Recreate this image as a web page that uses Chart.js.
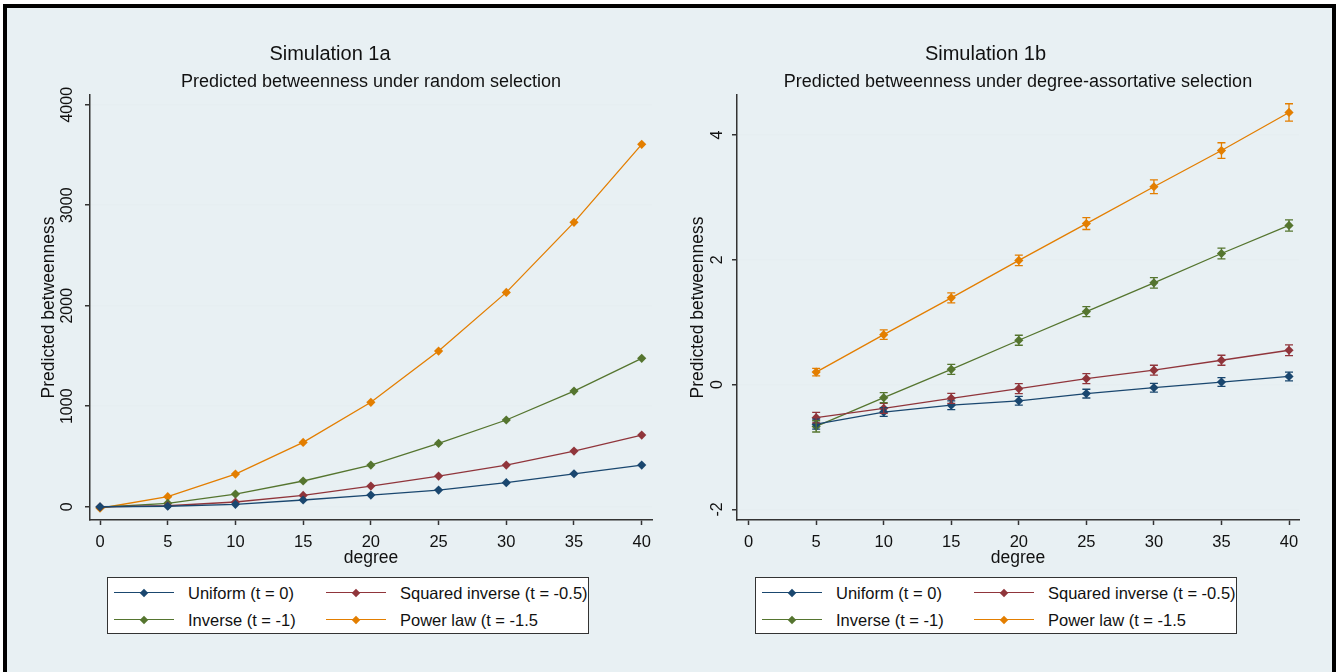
<!DOCTYPE html>
<html>
<head>
<meta charset="utf-8">
<script src="https://cdn.jsdelivr.net/npm/chart.js@4.4.0/dist/chart.umd.min.js"></script>
<style>
html, body { margin: 0; padding: 0; }
body { width: 1341px; height: 672px; overflow: hidden; background: #fff; position: relative;
       font-family: "Liberation Sans", Arial, sans-serif; }
#frame { position: absolute; left: 3px; top: 4px; width: 1325px; height: 700px;
         border: 4px solid #000; background: #e8f0f3; }
.chartbox { position: absolute; top: 0; height: 570px; }
.legend { position: absolute; top: 577px; width: 480px; height: 55px; background: #fff;
          border: 1px solid #333; font-size: 16.5px; color: #111; }
.item { position: absolute; height: 20px; }
.item .ln { position: absolute; left: 0; top: 9px; width: 60px; height: 1.3px; }
.item .dm { position: absolute; left: 26.5px; top: 6.5px; width: 6px; height: 6px; transform: rotate(45deg); }
.item .tx { position: absolute; left: 74px; top: 0; white-space: nowrap; line-height: 20px; }
</style>
</head>
<body>
<div id="frame"></div>
<div class="chartbox" style="left:8px;width:672px"><canvas id="graficoA" width="672" height="570"></canvas></div>
<div class="chartbox" style="left:672px;width:642px"><canvas id="graficoB" width="642" height="570"></canvas></div>
<div class="legend" id="leyendaA" style="left:107px"></div>
<div class="legend" id="leyendaB" style="left:755px"></div>
<script>
// datos
var nombres = ['Uniform (t = 0)', 'Squared inverse (t = -0.5)', 'Inverse (t = -1)', 'Power law (t = -1.5'];
var colores = ['#1a476f', '#90353b', '#55752f', '#e37e00'];

// Simulation 1a
var grados = [0, 5, 10, 15, 20, 25, 30, 35, 40];
var randUniform = [0, 5, 24, 67, 116, 166, 239, 328, 415];
var randSquared = [-2, 10, 47, 113, 206, 305, 415, 554, 713];
var randInverse = [-5, 34, 126, 256, 415, 631, 863, 1151, 1477];
var randPower = [-15, 100, 325, 640, 1039, 1549, 2133, 2830, 3606];
var ticksYA = [0, 1000, 2000, 3000, 4000];

// Simulation 1b
var gradosB = [5, 10, 15, 20, 25, 30, 35, 40];
var assortUniform = [-0.635, -0.44, -0.33, -0.26, -0.145, -0.05, 0.04, 0.13];
var assortSquared = [-0.53, -0.38, -0.22, -0.065, 0.095, 0.23, 0.39, 0.55];
var assortInverse = [-0.67, -0.21, 0.245, 0.71, 1.17, 1.63, 2.10, 2.55];
var assortPower = [0.20, 0.80, 1.39, 1.99, 2.58, 3.17, 3.75, 4.36];
var errUniform = [0.08, 0.07, 0.07, 0.07, 0.07, 0.07, 0.07, 0.07];
var errSquared = [0.085, 0.08, 0.08, 0.08, 0.08, 0.08, 0.08, 0.085];
var errInverse = [0.09, 0.08, 0.08, 0.08, 0.08, 0.085, 0.085, 0.09];
var errPower = [0.06, 0.075, 0.08, 0.085, 0.095, 0.11, 0.125, 0.14];
var ticksYB = [-2, 0, 2, 4];

var ticksX = [0, 5, 10, 15, 20, 25, 30, 35, 40];

var oscuro = '#333';
var texto = '#111';

function serie(xs, ys, i) {
	return {
		label: nombres[i],
		data: xs.map(function (x, j) { return { x: x, y: ys[j] }; }),
		borderColor: colores[i],
		backgroundColor: colores[i],
		borderWidth: 1.3,
		pointStyle: 'rectRot',
		pointRadius: 4.6,
		pointBorderWidth: 0,
		tension: 0
	};
}

// subtitulo centrado sobre el area del grafico + barras de error
var extras = {
	id: 'extras',
	afterDatasetsDraw: function (chart, args, opts) {
		if (!opts.errores) return;
		var ctx = chart.ctx, sx = chart.scales.x, sy = chart.scales.y;
		ctx.save();
		chart.data.datasets.forEach(function (ds, i) {
			var err = opts.errores[i];
			ctx.strokeStyle = colores[i];
			ctx.lineWidth = 1.3;
			ds.data.forEach(function (p, j) {
				var px = sx.getPixelForValue(p.x);
				var arriba = sy.getPixelForValue(p.y + err[j]);
				var abajo = sy.getPixelForValue(p.y - err[j]);
				ctx.beginPath();
				ctx.moveTo(px, arriba); ctx.lineTo(px, abajo);
				ctx.moveTo(px - 4, arriba); ctx.lineTo(px + 4, arriba);
				ctx.moveTo(px - 4, abajo); ctx.lineTo(px + 4, abajo);
				ctx.stroke();
			});
		});
		ctx.restore();
	},
	afterDraw: function (chart, args, opts) {
		var ctx = chart.ctx, a = chart.chartArea;
		ctx.save();
		ctx.font = '18px "Liberation Sans", Arial, sans-serif';
		ctx.fillStyle = texto;
		ctx.textAlign = 'center';
		ctx.textBaseline = 'middle';
		ctx.fillText(opts.subtitulo, (a.left + a.right) / 2, a.top - 13);
		ctx.restore();
	}
};

function opciones(titulo, subtitulo, xmin, xmax, ymin, ymax, ticksY, anchoY, padTitY, padTicksY, errores) {
	return {
		responsive: false,
		animation: false,
		devicePixelRatio: 1,
		layout: { padding: { left: 0, right: anchoY === 82 ? 28 : 15, top: 0, bottom: 1 } },
		plugins: {
			legend: { display: false },
			tooltip: { enabled: false },
			title: {
				display: true, text: titulo, color: texto,
				font: { size: 20, weight: 'normal', family: '"Liberation Sans", Arial, sans-serif' },
				padding: { top: 42, bottom: 29 }
			},
			extras: { subtitulo: subtitulo, errores: errores }
		},
		scales: {
			x: {
				type: 'linear', min: xmin, max: xmax,
				afterBuildTicks: function (s) { s.ticks = ticksX.map(function (v) { return { value: v }; }); },
				afterFit: function (s) { s.height = 49; },
				ticks: { autoSkip: false, maxRotation: 0, padding: 8, color: texto,
					font: { size: 16.5, family: '"Liberation Sans", Arial, sans-serif' },
					callback: function (v) { return String(v); } },
				grid: { drawOnChartArea: false, tickLength: 5, tickColor: oscuro, tickWidth: 1.5 },
				border: { color: oscuro, width: 1.5 },
				title: { display: true, text: 'degree', color: texto, padding: { top: 0, bottom: 0 },
					font: { size: 17.5, family: '"Liberation Sans", Arial, sans-serif' } }
			},
			y: {
				min: ymin, max: ymax,
				afterBuildTicks: function (s) { s.ticks = ticksY.map(function (v) { return { value: v }; }); },
				afterFit: function (s) { s.width = anchoY; },
				ticks: { autoSkip: false, minRotation: 90, maxRotation: 90, crossAlign: 'center',
					padding: padTicksY, color: texto,
					font: { size: 16, family: '"Liberation Sans", Arial, sans-serif' },
					callback: function (v) { return String(v); } },
				grid: { color: '#e6eef1', lineWidth: 1.5, tickLength: 5, tickColor: oscuro, tickWidth: 1.5 },
				border: { color: oscuro, width: 1.5 },
				title: { display: true, text: 'Predicted betweenness', color: texto,
					padding: { top: padTitY, bottom: 0 },
					font: { size: 17.5, family: '"Liberation Sans", Arial, sans-serif' } }
			}
		}
	};
}

var chartA = new Chart(document.getElementById('graficoA').getContext('2d'), {
	type: 'line',
	data: { datasets: [
		serie(grados, randUniform, 0),
		serie(grados, randSquared, 1),
		serie(grados, randInverse, 2),
		serie(grados, randPower, 3)
	] },
	options: opciones('Simulation 1a', 'Predicted betweenness under random selection',
		-0.74, 40.76, -132, 4097, ticksYA, 82, 31, 0, null),
	plugins: [extras]
});

var chartB = new Chart(document.getElementById('graficoB').getContext('2d'), {
	type: 'line',
	data: { datasets: [
		serie(gradosB, assortUniform, 0),
		serie(gradosB, assortSquared, 1),
		serie(gradosB, assortInverse, 2),
		serie(gradosB, assortPower, 3)
	] },
	options: opciones('Simulation 1b', 'Predicted betweenness under degree-assortative selection',
		-0.86, 40.74, -2.17, 4.64, ticksYB, 65, 15.5, 7, [errUniform, errSquared, errInverse, errPower]),
	plugins: [extras]
});

// leyendas en html
function leyenda(id) {
	var caja = document.getElementById(id);
	var pos = [[6, 5], [218, 5], [6, 32], [218, 32]];
	nombres.forEach(function (n, i) {
		var it = document.createElement('div');
		it.className = 'item';
		it.style.left = pos[i][0] + 'px';
		it.style.top = pos[i][1] + 'px';
		it.innerHTML = '<div class="ln" style="background:' + colores[i] + '"></div>' +
			'<div class="dm" style="background:' + colores[i] + '"></div>' +
			'<div class="tx">' + n + '</div>';
		caja.appendChild(it);
	});
}
leyenda('leyendaA');
leyenda('leyendaB');
</script>
</body>
</html>
